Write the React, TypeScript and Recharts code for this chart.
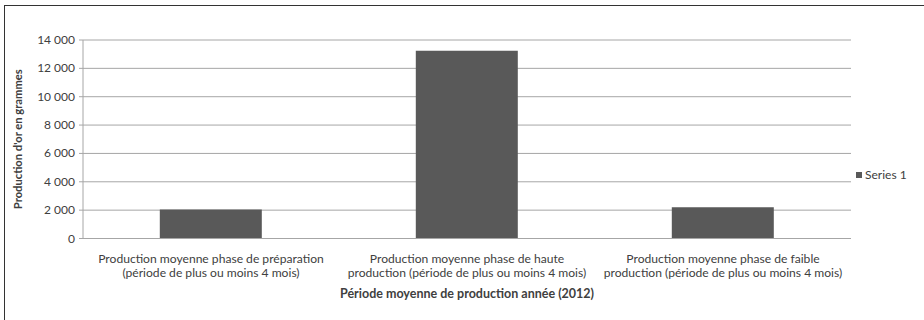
import React from "react";
import { BarChart, Bar, XAxis, YAxis, CartesianGrid, Legend } from "recharts";

const categoryLines: string[][] = [
  ["Production moyenne phase de préparation", "(période de plus ou moins 4 mois)"],
  ["Production moyenne phase de haute", "production (période de plus ou moins 4 mois)"],
  ["Production moyenne phase de faible", "production (période de plus ou moins 4 mois)"],
];
const series1Values: number[] = [2050, 13250, 2200];
const yTicks: number[] = [0, 2000, 4000, 6000, 8000, 10000, 12000, 14000];
const seriesName = "Series 1";
const xTitle = "Période moyenne de production année (2012)";
const yTitle = "Production d'or en grammes";

const data = categoryLines.map((lines, i) => ({
  name: String(i),
  lines,
  value: series1Values[i],
}));

const FONT = "Lato, 'Open Sans', sans-serif";
const TEXT = "#404040";

const fmt = (v: number) => String(v).replace(/\B(?=(\d{3})+(?!\d))/g, " ");

const XTick = (props: any) => {
  const { x, y, payload } = props;
  const lines = categoryLines[Number(payload.value)] || [];
  return (
    <g>
      {lines.map((l, i) => (
        <text
          key={i}
          x={x}
          y={y + 16 + i * 14.5}
          textAnchor="middle"
          fontFamily={FONT}
          fontSize={12.1}
          fill={TEXT}
        >
          {l}
        </text>
      ))}
    </g>
  );
};

const YTick = (props: any) => {
  const { x, y, payload } = props;
  return (
    <text x={x - 2} y={y + 4} textAnchor="end" fontFamily={FONT} fontSize={12} fill={TEXT}>
      {fmt(payload.value)}
    </text>
  );
};

const LegendContent = () => (
  <div style={{ display: "flex", alignItems: "center", fontFamily: FONT, fontSize: 12, color: TEXT }}>
    <span style={{ display: "inline-block", width: 6, height: 6, background: "#595959", marginRight: 3 }} />
    <span>{seriesName}</span>
  </div>
);

export default function App() {
  return (
    <div style={{ position: "absolute", left: 0, top: 0, width: 924, height: 320, overflow: "hidden", background: "#fff" }}>
      <div
        style={{
          position: "absolute",
          left: 4,
          top: 5,
          width: 1000,
          height: 1000,
          borderLeft: "1.5px solid #333",
          borderTop: "1.5px solid #333",
        }}
      />
      <BarChart
        width={924}
        height={320}
        data={data}
        margin={{ top: 40, right: 73, left: 0, bottom: 21.5 }}
        barCategoryGap="30%"
        style={{ position: "absolute", left: 0, top: 0 }}
      >
        <CartesianGrid vertical={false} stroke="#a6a6a6" strokeWidth={1} />
        <XAxis
          dataKey="name"
          height={60}
          tick={<XTick />}
          tickLine={false}
          axisLine={{ stroke: "#a6a6a6" }}
          interval={0}
          label={{
            value: xTitle,
            position: "insideBottom",
            offset: 1,
            style: { fontFamily: FONT, fontSize: 12.5, fontWeight: 700, fill: TEXT },
          }}
        />
        <YAxis
          width={83}
          domain={[0, 14000]}
          ticks={yTicks}
          interval={0}
          tick={<YTick />}
          tickLine={{ stroke: "#a6a6a6" }}
          tickSize={4}
          axisLine={{ stroke: "#a6a6a6" }}
          label={{
            value: yTitle,
            angle: -90,
            position: "insideLeft",
            offset: 18,
            style: { fontFamily: FONT, fontSize: 11.2, fontWeight: 700, fill: TEXT, textAnchor: "middle" },
          }}
        />
        <Legend
          layout="vertical"
          align="center"
          verticalAlign="middle"
          content={<LegendContent />}
          wrapperStyle={{ position: "absolute", left: 856, top: 167, width: 70 }}
        />
        <Bar dataKey="value" name={seriesName} fill="#595959" isAnimationActive={false} />
      </BarChart>
    </div>
  );
}
